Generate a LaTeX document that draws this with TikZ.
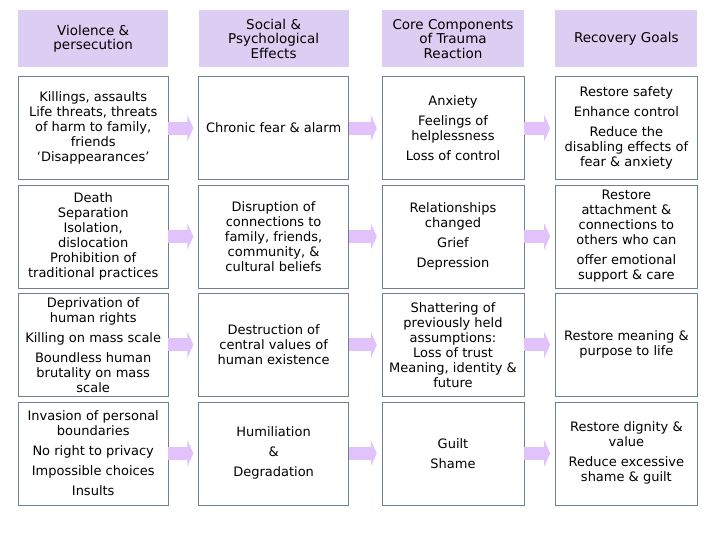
\documentclass[tikz,border=0pt]{standalone}
\usepackage{fontspec}
\setmainfont{DejaVu Sans}
\usepackage{xcolor}
\usetikzlibrary{arrows.meta,positioning}
\definecolor{headfill}{RGB}{220,205,242}
\definecolor{arrowfill}{RGB}{226,194,250}
\definecolor{boxline}{RGB}{112,128,142}

\begin{document}
\begin{tikzpicture}[
    x=1pt, y=-1pt,
    node distance=5pt and 31pt,
    head/.style={
      fill=headfill, align=center, inner sep=2pt,
      minimum height=57pt, minimum width=#1,
      font=\fontsize{13.5}{14.5}\selectfont
    },
    box/.style={
      draw=boxline, fill=white, align=center, inner xsep=2pt, inner ysep=0pt,
      minimum height=103pt, minimum width=#1,
      font=\fontsize{13}{15}\selectfont
    },
    arrow/.style={-{Triangle[length=6pt,width=26pt]},line width=13pt,draw=arrowfill}
  ]
    \useasboundingbox (0,0) rectangle (720,540);

    % column headings
    \node[head=150pt,anchor=north west] (hviol) at (18,10) {Violence \&\\persecution};
    \node[head=150pt,right=30pt of hviol] (hsoc) {Social \&\\Psychological\\Effects};
    \node[head=142pt,right=33pt of hsoc] (hcore) {Core Components\\of Trauma\\Reaction};
    \node[head=142pt,right=31pt of hcore] (hgoal) {Recovery Goals};

    % violence & persecution
    \node[box=150pt,below=9pt of hviol] (kill) {Killings, assaults\\Life threats, threats\\of harm to family,\\friends\\‘Disappearances’};
    \node[box=150pt,below=of kill] (death) {Death\\Separation\\Isolation,\\dislocation\\Prohibition of\\traditional practices};
    \node[box=150pt,below=of death] (depriv) {Deprivation of\\human rights\\[5pt]Killing on mass scale\\[5pt]Boundless human\\brutality on mass\\scale};
    \node[box=150pt,below=of depriv] (invas) {Invasion of personal\\boundaries\\[5pt]No right to privacy\\[5pt]Impossible choices\\[5pt]Insults};

    % social & psychological effects
    \node[box=150pt,below=9pt of hsoc] (fear) {Chronic fear \& alarm};
    \node[box=150pt,below=of fear] (disrupt) {Disruption of\\connections to\\family, friends,\\community, \&\\cultural beliefs};
    \node[box=150pt,below=of disrupt] (destr) {Destruction of\\central values of\\human existence};
    \node[box=150pt,below=of destr] (humil) {Humiliation\\[5pt]\&\\[5pt]Degradation};

    % core components
    \node[box=142pt,below=9pt of hcore] (anx) {Anxiety\\[5pt]Feelings of\\helplessness\\[5pt]Loss of control};
    \node[box=142pt,below=of anx] (grief) {Relationships\\changed\\[5pt]Grief\\[5pt]Depression};
    \node[box=142pt,below=of grief] (shatter) {Shattering of\\previously held\\assumptions:\\Loss of trust\\Meaning, identity \&\\future};
    \node[box=142pt,below=of shatter] (guilt) {Guilt\\[5pt]Shame};

    % recovery goals
    \node[box=142pt,below=9pt of hgoal] (safety) {Restore safety\\[5pt]Enhance control\\[5pt]Reduce the\\disabling effects of\\fear \& anxiety};
    \node[box=142pt,below=of safety] (attach) {Restore\\attachment \&\\connections to\\others who can\\[5pt]offer emotional\\support \& care};
    \node[box=142pt,below=of attach] (meaning) {Restore meaning \&\\purpose to life};
    \node[box=142pt,below=of meaning] (dignity) {Restore dignity \&\\value\\[5pt]Reduce excessive\\shame \& guilt};

    \draw[arrow] (kill.east) -- ([xshift=-5pt]fear.west);
    \draw[arrow] (fear.east) -- ([xshift=-5pt]anx.west);
    \draw[arrow] (anx.east) -- ([xshift=-5pt]safety.west);
    \draw[arrow] (death.east) -- ([xshift=-5pt]disrupt.west);
    \draw[arrow] (disrupt.east) -- ([xshift=-5pt]grief.west);
    \draw[arrow] (grief.east) -- ([xshift=-5pt]attach.west);
    \draw[arrow] (depriv.east) -- ([xshift=-5pt]destr.west);
    \draw[arrow] (destr.east) -- ([xshift=-5pt]shatter.west);
    \draw[arrow] (shatter.east) -- ([xshift=-5pt]meaning.west);
    \draw[arrow] (invas.east) -- ([xshift=-5pt]humil.west);
    \draw[arrow] (humil.east) -- ([xshift=-5pt]guilt.west);
    \draw[arrow] (guilt.east) -- ([xshift=-5pt]dignity.west);
  \end{tikzpicture}
\end{document}
